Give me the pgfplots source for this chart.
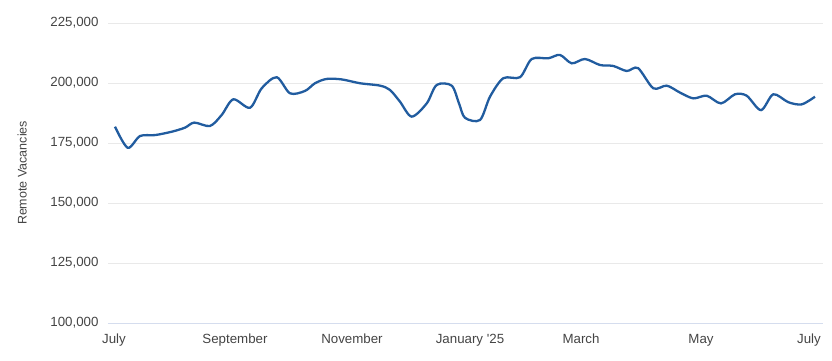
\documentclass[border=0pt]{standalone}
\usepackage{fontspec}
\setmainfont{Liberation Sans}
\usepackage{pgfplots}
\pgfplotsset{compat=1.18}
\definecolor{linec}{HTML}{215C9F}
\definecolor{gridc}{HTML}{E9E9E9}
\definecolor{axisc}{HTML}{D5DDEE}
\definecolor{labc}{HTML}{444444}
\begin{document}
\begin{tikzpicture}
\begin{axis}[
  scale only axis,
  width=715pt, height=300pt,
  xmin=108, xmax=823,
  ymin=100000, ymax=225000,
  scaled y ticks=false,
  ytick={100000,125000,150000,175000,200000,225000},
  yticklabels={{100,000},{125,000},{150,000},{175,000},{200,000},{225,000}},
  xtick={114,235,352,470,581,701,809},
  xticklabels={July,September,November,January \textquotesingle25,March,May,July},
  major tick length=0pt,
  ymajorgrids, grid style={gridc, line width=1pt},
  axis x line*=bottom,
  axis y line*=left,
  y axis line style={draw=none},
  x axis line style={axisc, line width=1pt, -},
  ylabel={Remote Vacancies},
  ylabel style={font=\fontsize{12.5}{14}\selectfont, text=labc, at={(axis description cs:-0.12,0.5)}, anchor=center, rotate=0},
  every y tick label/.append style={font=\fontsize{13.3}{15}\selectfont, text=labc, xshift=-6pt},
  every x tick label/.append style={font=\fontsize{13.3}{15}\selectfont, text=labc, text height=9.5pt, text depth=3pt, yshift=-7pt},
  clip=false,
]
\addplot[linec, line width=2.3pt, smooth, tension=0.5] coordinates {
(115,181800)
(127.7,173000)
(140,177900)
(155,178300)
(171.7,179700)
(185,181400)
(194.3,183500)
(210,182100)
(221.7,186700)
(233.3,193200)
(250,189700)
(261.7,197800)
(276.7,202400)
(290,195700)
(305,196700)
(315,199900)
(326.7,201700)
(341.7,201500)
(360,199900)
(380,198900)
(390,197100)
(400,192200)
(411.7,186000)
(426.7,191500)
(436.7,199200)
(451.7,198900)
(459,191500)
(465,185500)
(480,184600)
(490,194300)
(503.3,202000)
(520,202400)
(531.7,210000)
(548.3,210300)
(560,211700)
(571.7,208200)
(585,210000)
(600,207500)
(613.3,207100)
(626.7,205000)
(638,206200)
(653.3,197800)
(666.7,198900)
(680,196000)
(693.3,193600)
(706.7,194700)
(721,191500)
(735,195300)
(746.7,194700)
(761,188700)
(773.3,195300)
(788.3,192000)
(801.7,191100)
(815,194300)
};
\end{axis}
\pgfresetboundingbox
\useasboundingbox (-108pt,-37pt) rectangle (724pt,323pt);
\end{tikzpicture}
\end{document}
